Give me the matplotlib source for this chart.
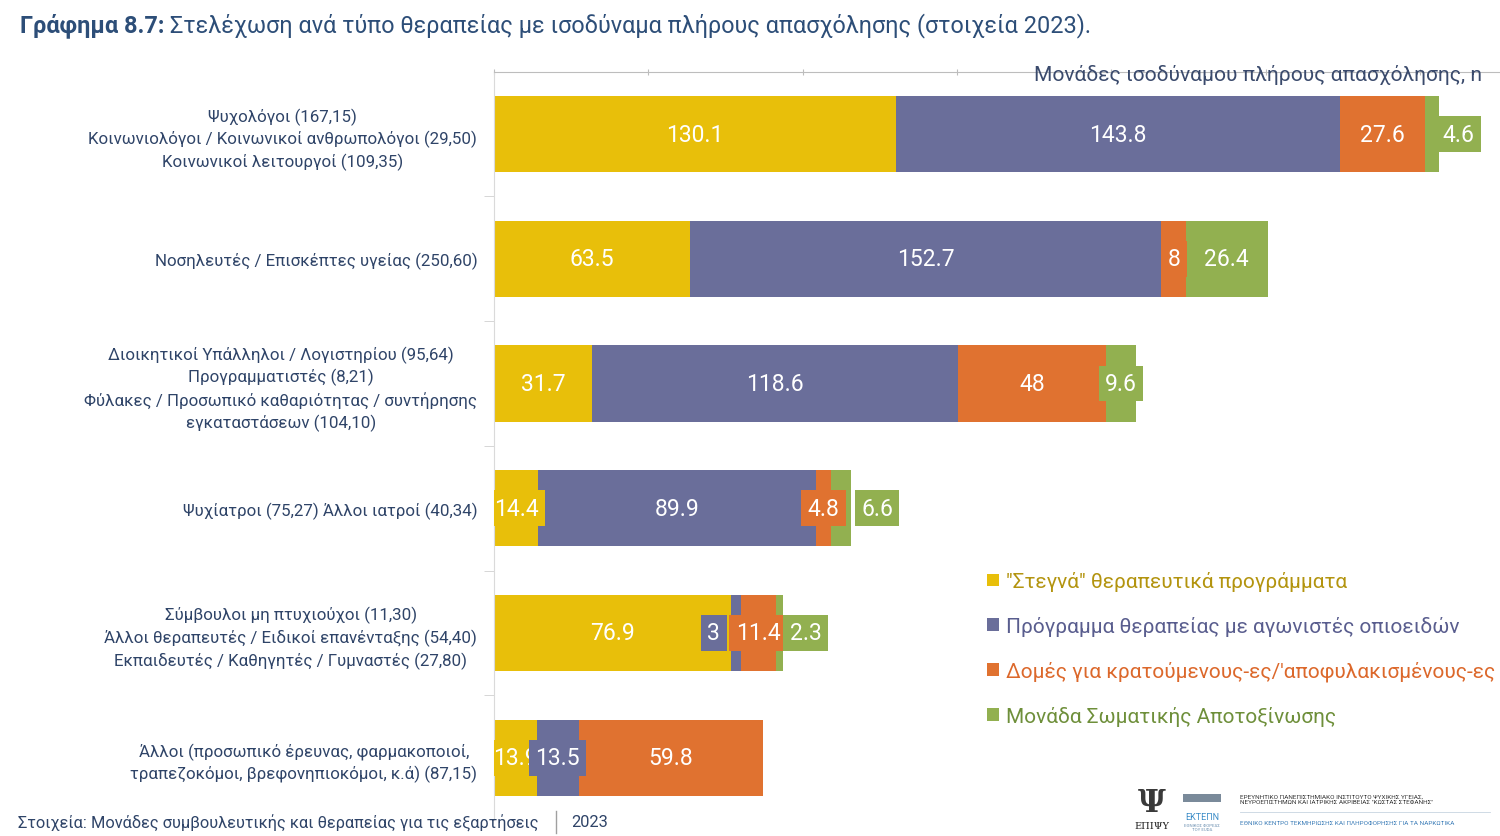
import matplotlib
matplotlib.use("Agg")
import matplotlib.pyplot as plt
from matplotlib.patches import Rectangle
import numpy as np

plt.rcParams["font.family"] = ["Roboto", "DejaVu Sans"]

categories = [
    "Ψυχολόγοι (167,15)\nΚοινωνιολόγοι / Κοινωνικοί ανθρωπολόγοι (29,50)\nΚοινωνικοί λειτουργοί (109,35)",
    "Νοσηλευτές / Επισκέπτες υγείας (250,60)",
    "Διοικητικοί Υπάλληλοι / Λογιστηρίου (95,64)\nΠρογραμματιστές (8,21)\n"
    "Φύλακες / Προσωπικό καθαριότητας / συντήρησης\nεγκαταστάσεων (104,10)",
    "Ψυχίατροι (75,27) Άλλοι ιατροί (40,34)",
    "Σύμβουλοι μη πτυχιούχοι (11,30)\nΆλλοι θεραπευτές / Ειδικοί επανένταξης (54,40)\n"
    "Εκπαιδευτές / Καθηγητές / Γυμναστές (27,80)",
    "Άλλοι (προσωπικό έρευνας, φαρμακοποιοί,\nτραπεζοκόμοι, βρεφονηπιοκόμοι, κ.ά) (87,15)",
]
series = [
    '"Στεγνά" θεραπευτικά προγράμματα',
    "Πρόγραμμα θεραπείας με αγωνιστές οπιοειδών",
    "Δομές για κρατούμενους-ες/'αποφυλακισμένους-ες",
    "Μονάδα Σωματικής Αποτοξίνωσης",
]
steg = [130.1, 63.5, 31.7, 14.4, 76.9, 13.9]
agon = [143.8, 152.7, 118.6, 89.9, 3.0, 13.5]
domes = [27.6, 8.0, 48.0, 4.8, 11.4, 59.8]
apotox = [4.6, 26.4, 9.6, 6.6, 2.3, 0.0]

colors = ["#E8BF0A", "#6A6E9A", "#E07230", "#92B050"]
text_colors = ["#B3940F", "#595D8E", "#DC682B", "#6E8F3A"]
# label nudges (points) where the original moved overlapping labels
nudge = {(0, 3): 19, (3, 3): 26, (4, 1): -16, (4, 3): 19}

navy = "#2F4468"

fig = plt.figure(figsize=(15, 8.37), dpi=100)
ax = fig.add_axes([494 / 1500, 1 - 821 / 837, 1006 / 1500, (821 - 72.7) / 837])

y = np.arange(len(categories))
left = np.zeros(len(categories))
for si, vals in enumerate([steg, agon, domes, apotox]):
    vals = np.array(vals)
    ax.barh(y, vals, left=left, height=0.61, color=colors[si], label=series[si], zorder=2)
    for ri, v in enumerate(vals):
        if v <= 0:
            continue
        ax.annotate(f"{v:g}", (left[ri] + v / 2, y[ri]),
                    xytext=(nudge.get((ri, si), 0), 0), textcoords="offset points",
                    ha="center", va="center", color="white", fontsize=16.5,
                    zorder=3 + si, clip_on=True,
                    bbox=dict(boxstyle="square,pad=0.28", fc=colors[si], ec="none"))
    left += vals

ax.set_xlim(0, 1006 / 3.087)
ax.set_ylim(5.5, -0.5)

for s in ["right", "bottom"]:
    ax.spines[s].set_visible(False)
ax.spines["top"].set_color("#BDBDBD")
ax.spines["left"].set_color("#DADADA")
ax.xaxis.tick_top()
ax.set_xticks(np.arange(0, 301, 50))
ax.tick_params(axis="x", length=4, direction="inout", color="#BDBDBD", labeltop=False)

ax.set_yticks(y, categories)
ax.set_yticks(np.arange(0.5, 5, 1), minor=True)
ax.tick_params(axis="y", which="major", length=0, pad=12, labelsize=12.15, labelcolor=navy)
ax.tick_params(axis="y", which="minor", length=7, color="#D0D0D0")
for tl in ax.get_yticklabels():
    tl.set_multialignment("center")
    tl.set_linespacing(1.42)

ax.text(1 - 18 / 1006, 1 - 2.5 / 748, "Μονάδες ισοδύναμου πλήρους απασχόλησης, n",
        transform=ax.transAxes, ha="right", va="center", fontsize=15.1,
        color="#3A4A6C", zorder=5)

leg = ax.legend(loc="upper left", bbox_to_anchor=(979 / 1500, 1 - 564 / 837),
                bbox_transform=fig.transFigure, frameon=False, fontsize=15.05,
                handlelength=0.55, handleheight=0.55, handletextpad=0.35,
                labelspacing=1.18, borderaxespad=0)
for txt, c in zip(leg.get_texts(), text_colors):
    txt.set_color(c)

# title
fig.canvas.draw()
r = fig.canvas.get_renderer()
t1 = fig.text(20 / 1500, 1 - 26 / 837, "Γράφημα 8.7:", fontsize=16.9, fontweight="bold",
              color="#2D4E78", va="center", ha="left")
bb = t1.get_window_extent(r)
fig.text((bb.x1 + 6) / 1500, 1 - 26 / 837,
         "Στελέχωση ανά τύπο θεραπείας με ισοδύναμα πλήρους απασχόλησης (στοιχεία 2023).",
         fontsize=16.9, color="#2D4E78", va="center", ha="left")

# source line
fig.text(18 / 1500, 1 - 823 / 837,
         "Στοιχεία: Μονάδες συμβουλευτικής και θεραπείας για τις εξαρτήσεις",
         fontsize=11.8, color=navy, va="center", ha="left")
fig.add_artist(plt.Line2D([556 / 1500, 556 / 1500], [1 - 834 / 837, 1 - 812 / 837],
                          transform=fig.transFigure, color="#A0A0A0", lw=1))
fig.text(571 / 1500, 1 - 823 / 837, "2023", fontsize=11.8, color=navy, va="center", ha="left")

# institutional logos (text approximation)
fig.text(1152 / 1500, 1 - 804 / 837, "Ψ", fontsize=22, family="DejaVu Serif",
         fontweight="bold", color="#3A3A3A", ha="center", va="center")
fig.text(1152 / 1500, 1 - 827 / 837, "ΕΠΙΨΥ", fontsize=7, family="DejaVu Serif",
         color="#222222", ha="center", va="center")
fig.add_artist(Rectangle((1183 / 1500, 1 - 803 / 837), 38 / 1500, 8 / 837,
                         transform=fig.transFigure, color="#7A8A9A", lw=0))
fig.text(1202 / 1500, 1 - 818 / 837, "ΕΚΤΕΠΝ", fontsize=6.5, color="#3C8DC8",
         ha="center", va="center")
fig.text(1202 / 1500, 1 - 828 / 837, "ΕΘΝΙΚΟΣ ΦΟΡΕΑΣ\nΤΟΥ EUDA", fontsize=3.2,
         color="#6B8FB0", ha="center", va="center", linespacing=1.1)
fig.text(1240 / 1500, 1 - 800 / 837,
         "ΕΡΕΥΝΗΤΙΚΟ ΠΑΝΕΠΙΣΤΗΜΙΑΚΟ ΙΝΣΤΙΤΟΥΤΟ ΨΥΧΙΚΗΣ ΥΓΕΙΑΣ,\n"
         "ΝΕΥΡΟΕΠΙΣΤΗΜΩΝ ΚΑΙ ΙΑΤΡΙΚΗΣ ΑΚΡΙΒΕΙΑΣ \"ΚΩΣΤΑΣ ΣΤΕΦΑΝΗΣ\"",
         fontsize=4.6, color="#333333", ha="left", va="center", linespacing=1.2)
fig.add_artist(plt.Line2D([1240 / 1500, 1490 / 1500], [1 - 813 / 837, 1 - 813 / 837],
                          transform=fig.transFigure, color="#C8D4E0", lw=0.6))
fig.text(1240 / 1500, 1 - 824 / 837,
         "ΕΘΝΙΚΟ ΚΕΝΤΡΟ ΤΕΚΜΗΡΙΩΣΗΣ ΚΑΙ ΠΛΗΡΟΦΟΡΗΣΗΣ ΓΙΑ ΤΑ ΝΑΡΚΩΤΙΚΑ",
         fontsize=4.6, color="#3C7DB8", ha="left", va="center")

fig.savefig("out.png", dpi=100)
